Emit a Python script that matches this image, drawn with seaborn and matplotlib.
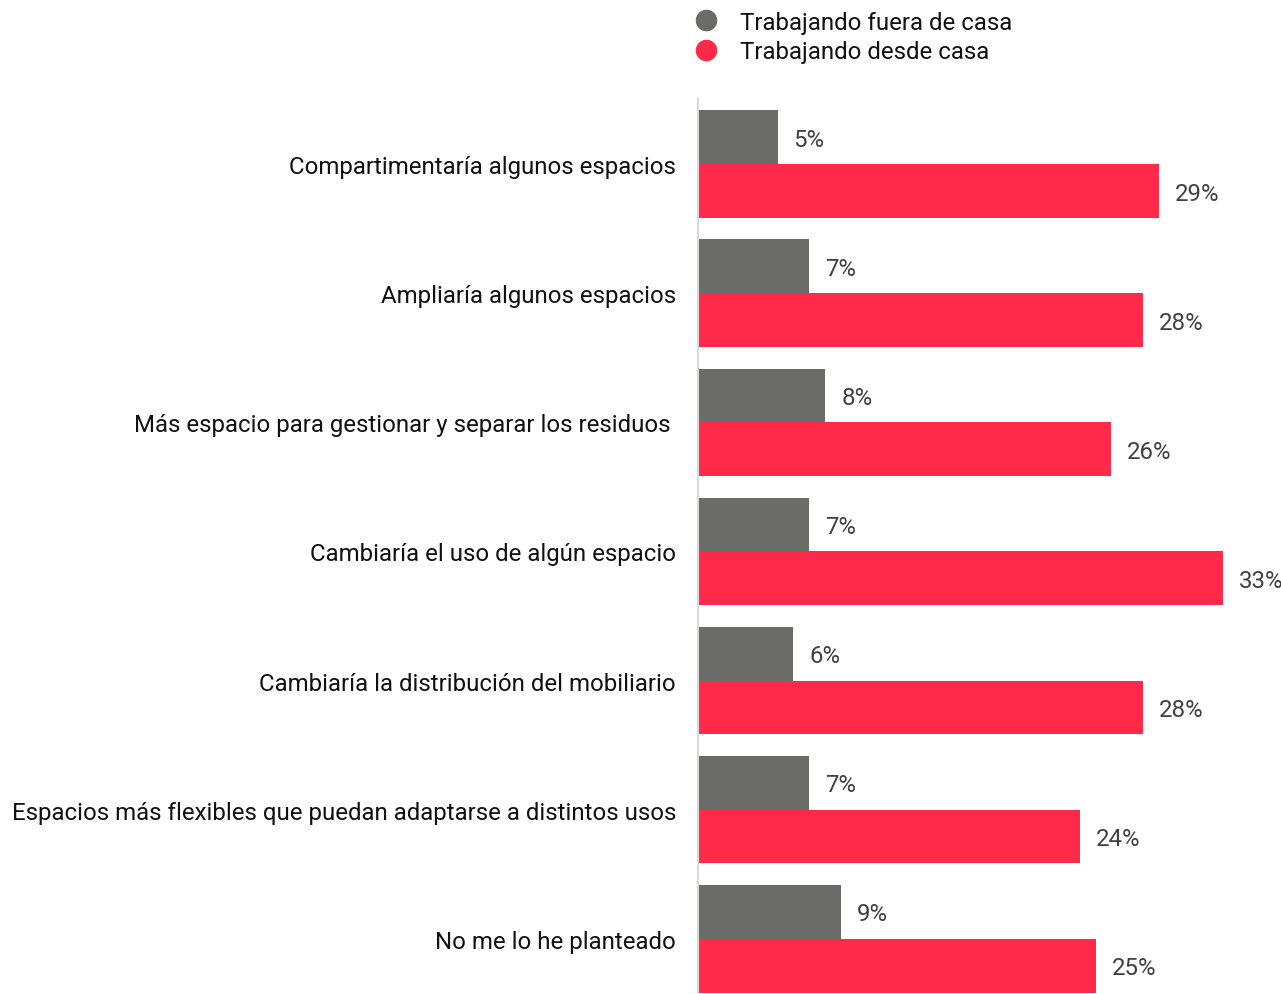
import matplotlib
matplotlib.use("Agg")
import matplotlib.pyplot as plt
from matplotlib.lines import Line2D
import seaborn as sns
import pandas as pd

categorias = [
    "Compartimentaría algunos espacios",
    "Ampliaría algunos espacios",
    "Más espacio para gestionar y separar los residuos ",
    "Cambiaría el uso de algún espacio",
    "Cambiaría la distribución del mobiliario",
    "Espacios más flexibles que puedan adaptarse a distintos usos",
    "No me lo he planteado",
]
series = ["Trabajando fuera de casa", "Trabajando desde casa"]
fuera_de_casa = [5, 7, 8, 7, 6, 7, 9]
desde_casa = [29, 28, 26, 33, 28, 24, 25]
colores = ["#6B6C67", "#FF2A4A"]

df = pd.DataFrame({
    "categoria": categorias * 2,
    "serie": [series[0]] * len(categorias) + [series[1]] * len(categorias),
    "valor": fuera_de_casa + desde_casa,
})

sns.set_theme(style="white")
plt.rcParams["font.family"] = ["Roboto", "DejaVu Sans"]

W, H = 1281, 995
fig = plt.figure(figsize=(W / 100, H / 100), dpi=100)
ax = fig.add_axes([698 / W, 0.0, 1 - 698 / W, 1 - 100 / H])

sns.barplot(
    data=df, y="categoria", x="valor", hue="serie", orient="h",
    palette=colores, hue_order=series, order=categorias,
    width=0.834, saturation=1, legend=False, linewidth=0, ax=ax,
)

for cont in ax.containers:
    for bar in cont:
        v = bar.get_width()
        ax.annotate(f"{v:.0f}%", (v, bar.get_y() + bar.get_height() / 2),
                    xytext=(11.5, -1.5), textcoords="offset points",
                    ha="left", va="center", fontsize=17.3, color="#404040")

ax.set_xlim(0, (W - 698) / 15.9)
ax.set_ylim(6.428, -0.505)
ax.set_xlabel("")
ax.set_ylabel("")
ax.set_xticks([])
ax.tick_params(axis="y", length=0, pad=15.8, labelsize=17.3, labelcolor="#111111")
for s in ["top", "right", "bottom"]:
    ax.spines[s].set_visible(False)
ax.spines["left"].set_color("#D9D9D9")
ax.spines["left"].set_linewidth(1.5)

handles = [Line2D([0], [0], marker="o", linestyle="none", markersize=14.5,
                  markerfacecolor=c, markeredgecolor=c) for c in colores]
fig.legend(handles, series, loc="center left",
           bbox_to_anchor=(694 / W, 1 - 38 / H),
           frameon=False, fontsize=17.3, handlelength=1.0, handletextpad=0.92,
           labelspacing=0.26, borderaxespad=0, borderpad=0,
           labelcolor="#111111")

fig.savefig("out.png", dpi=100)
